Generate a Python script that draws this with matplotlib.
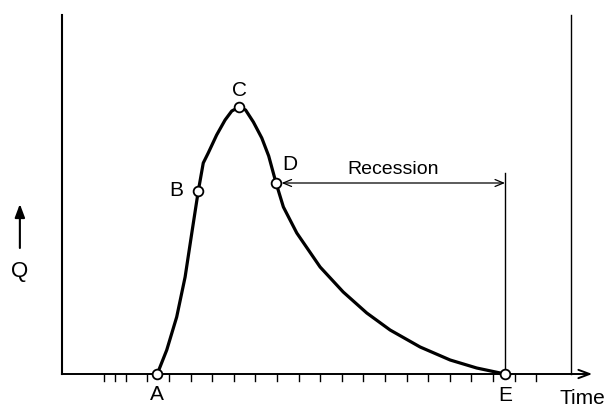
import matplotlib.pyplot as plt

# hydrograph (time in tick units, Q arbitrary)
time = [0.46, 0.90, 1.36, 1.75, 2.06, 2.36, 2.59, 2.82, 3.21, 3.60, 3.91, 4.26,
        4.55, 4.91, 5.30, 5.62, 5.96, 6.30, 6.92, 8.00, 9.07, 10.16, 11.24,
        12.63, 14.02, 15.25, 16.56]
flow = [0.00, 0.24, 0.57, 0.97, 1.41, 1.83, 2.11, 2.21, 2.39, 2.54, 2.63, 2.67,
        2.64, 2.52, 2.36, 2.18, 1.91, 1.67, 1.41, 1.07, 0.82, 0.61, 0.44,
        0.27, 0.14, 0.06, 0.00]

point_names = ['A', 'B', 'C', 'D', 'E']
point_idx = [0, 5, 11, 16, 26]
label_offsets = [(0, -15), (-16, 0), (0, 12), (10, 13.5), (0, -15.5)]  # points

tick_pos = [-2, -1.5, -1] + list(range(0, 19))

plt.rcParams['font.family'] = ['Liberation Sans', 'DejaVu Sans']

fig = plt.figure(figsize=(6.13, 4.08), dpi=100)
ax = fig.add_axes([0, 0, 1, 1])
ax.set_xlim(-6.82, 21.56)
ax.set_ylim(-0.34, 3.74)
ax.axis('off')

x_left, x_right, y_top = -3.96, 19.62, 3.59

# frame: left axis, right line, baseline with arrow
ax.plot([x_left, x_left], [0, y_top], color='black', lw=1.5)
ax.plot([x_right, x_right], [0, y_top], color='black', lw=1.0)
ax.annotate('', xy=(20.6, 0), xytext=(x_left, 0),
            arrowprops=dict(arrowstyle='->,head_length=0.8,head_width=0.3',
                            color='black', lw=1.4, shrinkA=0, shrinkB=0))
for t in tick_pos:
    ax.plot([t, t], [0, -0.07], color='black', lw=1.0)

# hydrograph
ax.plot(time, flow, color='black', lw=2.3, solid_capstyle='round',
        solid_joinstyle='round', zorder=3)
for name, i, off in zip(point_names, point_idx, label_offsets):
    ax.plot(time[i], flow[i], 'o', ms=7, mfc='white', mec='black', mew=1.3, zorder=4)
    ax.annotate(name, (time[i], flow[i]), xytext=off, textcoords='offset points',
                ha='center', va='center', fontsize=15)

# recession arrow
d_t, e_t = time[point_idx[3]], time[point_idx[4]]
y_rec = flow[point_idx[3]]
ax.plot([e_t, e_t], [0, y_rec + 0.1], color='black', lw=1.0)
ax.annotate('', xy=(e_t, y_rec), xytext=(d_t, y_rec),
            arrowprops=dict(arrowstyle='<->,head_length=0.6,head_width=0.25',
                            color='black', lw=0.9, shrinkA=4, shrinkB=0))
ax.text((d_t + e_t) / 2 + 0.1, y_rec + 0.14, 'Recession', ha='center', va='center',
        fontsize=14)

# axis labels
ax.text(20.12, -0.24, 'Time', ha='center', va='center', fontsize=15)
ax.annotate('', xy=(-5.9, 1.70), xytext=(-5.9, 1.26),
            arrowprops=dict(arrowstyle='-|>,head_length=0.8,head_width=0.3',
                            color='black', lw=1.5, shrinkA=0, shrinkB=0))
ax.text(-5.9, 1.03, 'Q', ha='center', va='center', fontsize=16)

fig.savefig('out.png', dpi=100)
